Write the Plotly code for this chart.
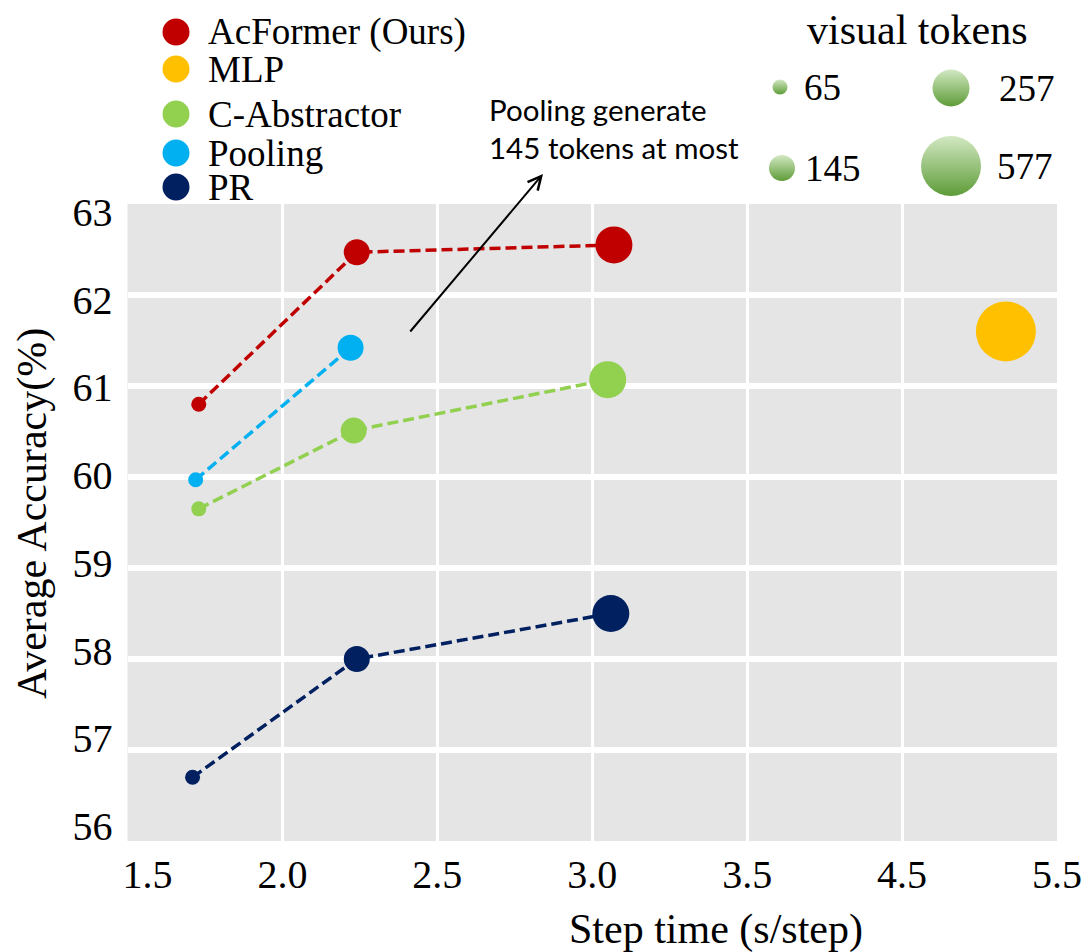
import plotly.graph_objects as go

# ---------------- data ----------------
series_names = ["AcFormer (Ours)", "MLP", "C-Abstractor", "Pooling", "PR"]
series_colors = ["#C00000", "#FFC000", "#92D050", "#00B0F0", "#002060"]

acformer_time = [1.73, 2.24, 3.07]
acformer_acc = [60.80, 62.47, 62.55]
acformer_tokens = [65, 145, 257]

mlp_time = [5.17]
mlp_acc = [61.60]
mlp_tokens = [577]

cabs_time = [1.73, 2.23, 3.05]
cabs_acc = [59.65, 60.51, 61.07]
cabs_tokens = [65, 145, 257]

pooling_time = [1.72, 2.22]
pooling_acc = [59.97, 61.42]
pooling_tokens = [65, 145]

pr_time = [1.71, 2.24, 3.06]
pr_acc = [56.70, 58.00, 58.50]
pr_tokens = [65, 145, 257]

x_tick_values = [1.5, 2.0, 2.5, 3.0, 3.5, 4.5, 5.5]
x_tick_labels = ["\u2007\u20071.5", "2.0", "2.5", "3.0", "3.5", "4.5", "5.5"]
y_tick_values = [56, 57, 58, 59, 60, 61, 62, 63]
token_levels = [65, 145, 257, 577]

# ---------------- style ----------------
W, H = 1082, 952
SERIF = "Liberation Serif, Times New Roman, serif"
token_size = {65: 15, 145: 26, 257: 37, 577: 60}
BREAK = 3.5  # axis is compressed (x2) beyond 3.5


def axis_pos(v):
    return v if v <= BREAK else BREAK + (v - BREAK) / 2.0


series_data = [
    (acformer_time, acformer_acc, acformer_tokens),
    (mlp_time, mlp_acc, mlp_tokens),
    (cabs_time, cabs_acc, cabs_tokens),
    (pooling_time, pooling_acc, pooling_tokens),
    (pr_time, pr_acc, pr_tokens),
]

fig = go.Figure()

for name, color, (t, a, tok) in zip(series_names, series_colors, series_data):
    fig.add_trace(go.Scatter(
        x=[axis_pos(v) for v in t], y=a,
        mode="lines+markers", name=name,
        line=dict(color=color, width=3.5, dash="11px,5px"),
        marker=dict(color=color, size=[token_size[k] for k in tok], opacity=1,
                    line=dict(width=0)),
        showlegend=False, xaxis="x", yaxis="y",
    ))

# invisible anchor trace for the label axis (y3)
fig.add_trace(go.Scatter(x=[axis_pos(2.0)], y=[60], mode="markers",
                         marker=dict(opacity=0), xaxis="x", yaxis="y3",
                         showlegend=False, hoverinfo="skip"))

# plot area in pixel terms
px_left, px_right = 127.5, 1057.0
py_top, py_bottom = 204.0, 841.0

# ---------------- custom legends on a full-figure overlay axis ----------------
leg_x = 176
leg_y = [32, 69, 114, 153, 187]
fig.add_trace(go.Scatter(
    x=[leg_x] * len(series_names), y=leg_y, mode="markers",
    marker=dict(color=series_colors, size=27, opacity=1, line=dict(width=0)),
    showlegend=False, xaxis="x2", yaxis="y2", hoverinfo="skip",
))

bubble_x = [780, 782, 951, 951]
bubble_y = [87, 168, 88, 166]
fig.add_trace(go.Scatter(
    x=bubble_x, y=bubble_y, mode="markers",
    marker=dict(color="#D2E8C2", size=[token_size[k] for k in token_levels], opacity=1,
                line=dict(width=0),
                gradient=dict(type="vertical", color="#5E9C38")),
    showlegend=False, xaxis="x2", yaxis="y2", hoverinfo="skip",
))

annotations = []
for name, y in zip(series_names, leg_y):
    annotations.append(dict(
        x=206, y=y, xref="x2", yref="y2", text=name, showarrow=False,
        xanchor="left", yanchor="middle", font=dict(family=SERIF, size=37, color="black"),
    ))
bubble_text_x = [802, 803, 997, 995]
for tok, bx, by in zip(token_levels, bubble_text_x, bubble_y):
    annotations.append(dict(
        x=bx, y=by, xref="x2", yref="y2", text=str(tok), showarrow=False,
        xanchor="left", yanchor="middle", font=dict(family=SERIF, size=37, color="black"),
    ))
annotations.append(dict(
    x=917, y=30, xref="x2", yref="y2", text="visual tokens", showarrow=False,
    xanchor="center", yanchor="middle", font=dict(family=SERIF, size=42, color="black"),
))
# note + arrow
annotations.append(dict(
    x=487, y=128, xref="x2", yref="y2",
    text="Pooling generate<br>145 tokens at most", showarrow=False, align="left",
    xanchor="left", yanchor="middle",
    font=dict(family="Lato, Liberation Sans, sans-serif", size=29.5, color="black"),
))
annotations.append(dict(
    x=543, y=174, xref="x2", yref="y2", ax=409, ay=333, axref="x2", ayref="y2",
    text="", showarrow=True, arrowhead=5, arrowsize=1.3, arrowwidth=2, arrowcolor="black",
))
# axis titles
annotations.append(dict(
    x=716, y=929, xref="x2", yref="y2", text="Step time (s/step)", showarrow=False,
    xanchor="center", yanchor="middle", font=dict(family=SERIF, size=42, color="black"),
))
annotations.append(dict(
    x=32, y=514, xref="x2", yref="y2", text="Average Accuracy(%)", showarrow=False,
    textangle=-90, xanchor="center", yanchor="middle", font=dict(family=SERIF, size=42, color="black"),
))

fig.update_layout(
    width=W, height=H,
    margin=dict(l=0, r=0, t=0, b=0),
    paper_bgcolor="white",
    plot_bgcolor="rgba(0,0,0,0)",
    showlegend=False,
    xaxis=dict(
        domain=[px_left / W, px_right / W],
        range=[axis_pos(1.5), axis_pos(5.5)],
        tickvals=[axis_pos(v) for v in x_tick_values], ticktext=x_tick_labels,
        showgrid=True, gridcolor="white", gridwidth=3,
        zeroline=False, showline=False, ticks="", automargin=False,
        tickfont=dict(family=SERIF, size=40, color="black"), ticklabelstandoff=6,
        anchor="y", fixedrange=True,
    ),
    yaxis=dict(
        domain=[1 - py_bottom / H, 1 - py_top / H],
        range=[56, 63], tickvals=y_tick_values,
        showgrid=True, gridcolor="white", gridwidth=6, showticklabels=False,
        zeroline=False, showline=False, ticks="", automargin=False,
        anchor="x", fixedrange=True,
    ),
    # tick-label axis: labels are spread slightly tighter than the gridlines, as in the source
    yaxis3=dict(
        overlaying="y", anchor="x", side="left",
        range=[55.829, 63.091], tickvals=y_tick_values,
        showgrid=False, zeroline=False, showline=False, ticks="", automargin=False,
        tickfont=dict(family=SERIF, size=40, color="black"), ticklabelstandoff=14,
        fixedrange=True,
    ),
    xaxis2=dict(domain=[0, 1], range=[0, W], visible=False, anchor="y2", fixedrange=True),
    yaxis2=dict(domain=[0, 1], range=[H, 0], visible=False, anchor="x2", fixedrange=True),
    shapes=[dict(type="rect", xref="x domain", yref="y domain", x0=0, x1=1, y0=0, y1=1,
                 fillcolor="#E5E5E5", line=dict(width=0), layer="below")],
    annotations=annotations,
)

fig.write_html(
    "out.html",
    config={"displayModeBar": False},
    post_script="document.body.style.margin='0px';document.body.style.overflow='hidden';",
)
